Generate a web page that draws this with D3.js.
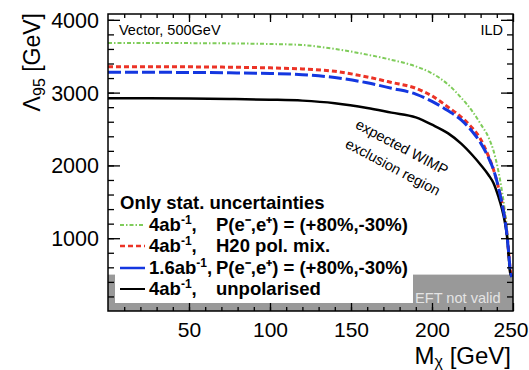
<!DOCTYPE html>
<html lang="en">
<head>
  <meta charset="UTF-8">
  <title>Vector WIMP exclusion, ILD 500GeV</title>
  <script src="https://d3js.org/d3.v7.min.js"></script>
  <style>
    body { margin: 0; background: #fff; }
    text { font-family: "Liberation Sans", Arial, Helvetica, sans-serif; }
  </style>
</head>
<body>

<div id="chart"></div>

<script>
  // WIMP mass points (GeV) and the expected 95% CL limits on Lambda (GeV)
  const mass = [0, 25, 50, 75, 100, 120, 140, 160, 175, 190, 200, 210, 218, 225, 230, 235, 238, 241, 243, 245, 246.5, 247.5, 248.3, 249.3];
  const greenPol = [3683, 3682, 3680, 3676, 3668, 3654, 3600, 3522, 3450, 3360, 3265, 3110, 2930, 2740, 2570, 2380, 2200, 1920, 1674, 1370, 1070, 640, 520, 470];
  const redH20 = [3357, 3356, 3354, 3349, 3340, 3325, 3293, 3215, 3140, 3060, 2955, 2800, 2665, 2510, 2360, 2120, 1940, 1700, 1510, 1270, 1010, 760, 560, 470];
  const bluePol = [3280, 3279, 3277, 3272, 3263, 3247, 3207, 3135, 3060, 2980, 2880, 2750, 2625, 2460, 2310, 2100, 1940, 1700, 1500, 1260, 1000, 750, 560, 470];
  const blackUnpol = [2922, 2921, 2918, 2912, 2903, 2890, 2855, 2790, 2725, 2660, 2560, 2440, 2300, 2140, 2010, 1865, 1755, 1570, 1420, 1220, 990, 720, 520, 470];

  const xTicks = [50, 100, 150, 200, 250];
  const yTicks = [1000, 2000, 3000, 4000];
  const eftLimit = 500; // Lambda below this: EFT not valid

  const width = 529, height = 370;
  const fLeft = 108, fRight = 513, fTop = 14, fBottom = 311;

  const x = d3.scaleLinear().domain([0, 250]).range([fLeft, fRight]);
  const y = d3.scaleLinear().domain([0, 4080]).range([fBottom, fTop]);

  const svg = d3.select("#chart").append("svg")
    .attr("width", width)
    .attr("height", height);

  svg.append("defs").append("clipPath").attr("id", "frame")
    .append("rect")
    .attr("x", fLeft).attr("y", fTop)
    .attr("width", fRight - fLeft).attr("height", fBottom - fTop);

  // grey band where the EFT is not valid
  svg.append("rect")
    .attr("x", x(0)).attr("y", y(eftLimit))
    .attr("width", x(250) - x(0)).attr("height", y(0) - y(eftLimit))
    .attr("fill", "#999");

  svg.append("text")
    .attr("x", 415).attr("y", 303)
    .attr("fill", "#e4e4e4")
    .attr("font-size", 14.6)
    .text("EFT not valid");

  // legend box sits on top of the grey band
  svg.append("rect")
    .attr("x", 115).attr("y", 188)
    .attr("width", 298).attr("height", 115)
    .attr("fill", "#fff");

  const series = [
    { vals: greenPol, color: "#7fcc5a", width: 2, dash: "4,2,1.5,2", legDash: "4,2,1.5,2" },
    { vals: redH20, color: "#ec3326", width: 3, dash: "5,3", legDash: "5,3" },
    { vals: blackUnpol, color: "#000", width: 2.5, dash: null, legDash: null },
    { vals: bluePol, color: "#1437e0", width: 3, dash: "13,4", legDash: null }
  ];

  const line = d3.line()
    .x(d => x(d[0]))
    .y(d => y(d[1]))
    .curve(d3.curveMonotoneX);

  const curves = svg.append("g").attr("clip-path", "url(#frame)");
  series.forEach(s => {
    curves.append("path")
      .datum(mass.map((m, i) => [m, s.vals[i]]))
      .attr("d", line)
      .attr("fill", "none")
      .attr("stroke", s.color)
      .attr("stroke-width", s.width)
      .attr("stroke-dasharray", s.dash);
  });

  // axes: ROOT style, ticks pointing inwards on all four sides
  function drawAxis(axisFn, scale, pos, major, minor, majLen, minLen, labels) {
    const g = svg.append("g").attr("transform", pos);
    g.call(axisFn(scale).tickValues(minor).tickSize(minLen).tickFormat(""));
    g.append("g").call(axisFn(scale).tickValues(major).tickSize(majLen)
      .tickFormat(labels ? d3.format("d") : ""));
    g.selectAll(".domain").remove();
    g.selectAll("line").attr("stroke", "#000").attr("stroke-width", 1.3);
    return g;
  }

  const xMinor = d3.range(10, 250, 10);
  const yMinor = d3.range(200, 4080, 200);

  const gb = drawAxis(d3.axisBottom, x, `translate(0,${fBottom})`, xTicks, xMinor, -8, -4, true);
  gb.selectAll("text").attr("font-size", 21).attr("fill", "#000")
    .attr("y", 26).attr("dy", 0);
  // last label would run past the window edge, pin it to the right
  gb.selectAll("text").filter(d => d === 250)
    .attr("text-anchor", "end").attr("x", 15);
  drawAxis(d3.axisTop, x, `translate(0,${fTop})`, xTicks, xMinor, -8, -4, false);

  const gl = drawAxis(d3.axisLeft, y, `translate(${fLeft},0)`, yTicks, yMinor, -12, -6, true);
  gl.selectAll("text").attr("font-size", 21.5).attr("fill", "#000")
    .attr("x", -9).attr("dy", "0.35em");
  drawAxis(d3.axisRight, y, `translate(${fRight},0)`, yTicks, yMinor, -12, -6, false);

  svg.append("rect")
    .attr("x", fLeft).attr("y", fTop)
    .attr("width", fRight - fLeft).attr("height", fBottom - fTop)
    .attr("fill", "none")
    .attr("stroke", "#000")
    .attr("stroke-width", 1.5);

  // axis titles
  const yTitle = svg.append("text")
    .attr("transform", "translate(40,13) rotate(-90)")
    .attr("text-anchor", "end")
    .attr("font-size", 23);
  yTitle.append("tspan").text("Λ");
  yTitle.append("tspan").attr("font-size", 16).attr("dy", 5).text("95");
  yTitle.append("tspan").attr("dy", -5).text(" [GeV]");

  const xTitle = svg.append("text")
    .attr("x", 511).attr("y", 364)
    .attr("text-anchor", "end")
    .attr("font-size", 24);
  xTitle.append("tspan").text("M");
  xTitle.append("tspan").attr("font-size", 16).attr("dy", 3).text("χ");
  xTitle.append("tspan").attr("dy", -3).text(" [GeV]");

  svg.append("text").attr("x", 119).attr("y", 35).attr("font-size", 14.5).text("Vector, 500GeV");
  svg.append("text").attr("x", 503).attr("y", 35).attr("font-size", 14.5)
    .attr("text-anchor", "end").text("ILD");

  // region annotation along the curve
  const ann = svg.append("g").attr("font-size", 14.5).attr("text-anchor", "middle");
  ann.append("text").attr("transform", "translate(402,147) rotate(28)").attr("dy", "0.35em").text("expected WIMP");
  ann.append("text").attr("transform", "translate(393,167) rotate(28)").attr("dy", "0.35em").text("exclusion region");

  // legend
  const lumi = ["4ab", "4ab", "1.6ab", "4ab"];
  const polText = ["P(e⁻,e⁺) = (+80%,-30%)", "H20 pol. mix.", "P(e⁻,e⁺) = (+80%,-30%)", "unpolarised"];
  const legOrder = [0, 1, 3, 2];
  const rowY = [231, 252, 274, 295];

  const leg = svg.append("g").attr("font-size", 18.5).attr("font-weight", "bold");
  leg.append("text").attr("x", 120).attr("y", 209).text("Only stat. uncertainties");

  legOrder.forEach((si, r) => {
    const s = series[si];
    leg.append("line")
      .attr("x1", 120).attr("x2", 145)
      .attr("y1", rowY[r] - 6).attr("y2", rowY[r] - 6)
      .attr("stroke", s.color)
      .attr("stroke-width", s.width === 3 ? 2.5 : 2)
      .attr("stroke-dasharray", s.legDash);
    const t = leg.append("text").attr("x", 149).attr("y", rowY[r]);
    t.append("tspan").text(lumi[r]);
    t.append("tspan").attr("font-size", 12).attr("dy", -7).text("-1");
    t.append("tspan").attr("dy", 7).text(",");
    leg.append("text").attr("x", 216).attr("y", rowY[r]).text(polText[r]);
  });
</script>

</body>
</html>
